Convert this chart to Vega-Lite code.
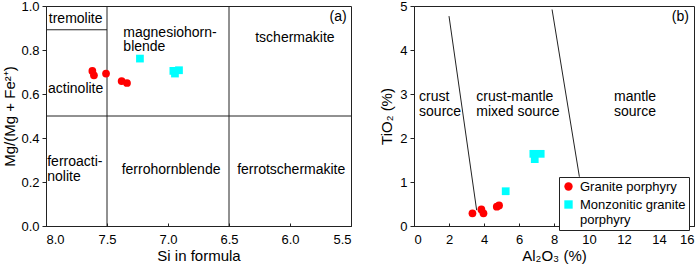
{
  "$schema": "https://vega.github.io/schema/vega-lite/v6.json",
  "padding": {"left": 2, "top": -1, "right": 0, "bottom": 0},
  "spacing": 27,
  "config": {
    "font": "Liberation Sans",
    "view": {"stroke": "#222", "strokeWidth": 1},
    "axis": {
      "grid": false, "domainColor": "#222", "tickColor": "#222",
      "labelColor": "#000", "titleColor": "#000",
      "labelFontSize": 13, "titleFontSize": 15, "titleFontWeight": "normal",
      "labelFont": "Liberation Sans", "titleFont": "Liberation Sans"
    },
    "axisX": {"tickSize": -3, "labelPadding": 10, "titlePadding": 2},
    "axisY": {"tickSize": 4, "labelPadding": 3, "titlePadding": 3},
    "text": {"font": "Liberation Sans", "fontSize": 14, "color": "#000", "lineHeight": 14.5}
  },
  "datasets": {
    "pointsA": [
      {"x": 7.62, "y": 0.705, "group": "Granite porphyry"},
      {"x": 7.607, "y": 0.685, "group": "Granite porphyry"},
      {"x": 7.508, "y": 0.693, "group": "Granite porphyry"},
      {"x": 7.38, "y": 0.659, "group": "Granite porphyry"},
      {"x": 7.336, "y": 0.65, "group": "Granite porphyry"},
      {"x": 7.23, "y": 0.761, "group": "Monzonitic granite porphyry"},
      {"x": 6.956, "y": 0.705, "group": "Monzonitic granite porphyry"},
      {"x": 6.91, "y": 0.708, "group": "Monzonitic granite porphyry"},
      {"x": 6.943, "y": 0.693, "group": "Monzonitic granite porphyry"}
    ],
    "pointsB": [
      {"x": 3.34, "y": 0.287, "group": "Granite porphyry"},
      {"x": 3.85, "y": 0.377, "group": "Granite porphyry"},
      {"x": 3.97, "y": 0.287, "group": "Granite porphyry"},
      {"x": 4.73, "y": 0.438, "group": "Granite porphyry"},
      {"x": 4.86, "y": 0.467, "group": "Granite porphyry"},
      {"x": 5.24, "y": 0.79, "group": "Monzonitic granite porphyry"},
      {"x": 6.82, "y": 1.64, "group": "Monzonitic granite porphyry"},
      {"x": 6.9, "y": 1.52, "group": "Monzonitic granite porphyry"},
      {"x": 7.24, "y": 1.64, "group": "Monzonitic granite porphyry"}
    ],
    "linesA": [
      {"x": 7.5, "y": 0, "xe": 7.5, "ye": 1},
      {"x": 6.5, "y": 0, "xe": 6.5, "ye": 1},
      {"x": 8, "y": 0.5, "xe": 5.5, "ye": 0.5},
      {"x": 8, "y": 0.892, "xe": 7.5, "ye": 0.892}
    ],
    "linesB": [
      {"x": 2.0, "y": 4.77, "xe": 3.58, "ye": 0.36},
      {"x": 7.89, "y": 4.92, "xe": 9.45, "ye": 1.12}
    ],
    "labelsAcenter": [
      {"x": 7.757, "y": 0.941, "label": "tremolite"},
      {"x": 5.96, "y": 0.855, "label": "tschermakite"},
      {"x": 7.757, "y": 0.625, "label": "actinolite"},
      {"x": 6.975, "y": 0.253, "label": "ferrohornblende"},
      {"x": 5.99, "y": 0.253, "label": "ferrotschermakite"}
    ],
    "labelsAleft": [
      {"x": 7.366, "y": 0.878, "label": ["magnesiohorn-", "blende"]},
      {"x": 7.99, "y": 0.289, "label": ["ferroacti-", "nolite"]}
    ],
    "tagA": [{"x": 5.535, "y": 0.952, "label": "(a)"}],
    "labelsBleft": [
      {"x": 0.29, "y": 2.93, "label": ["crust", "source"]},
      {"x": 3.56, "y": 2.93, "label": ["crust-mantle", "mixed source"]},
      {"x": 11.43, "y": 2.93, "label": ["mantle", "source"]}
    ],
    "tagB": [{"x": 15.71, "y": 4.76, "label": "(b)"}]
  },
  "resolve": {
    "scale": {"color": "independent", "shape": "independent"},
    "legend": {"color": "independent", "shape": "independent"}
  },
  "hconcat": [
    {
      "width": 305,
      "height": 220,
      "encoding": {
        "x": {"field": "x", "type": "quantitative",
              "scale": {"domain": [5.5, 8], "reverse": true, "nice": false, "zero": false},
              "axis": {"values": [8, 7.5, 7, 6.5, 6, 5.5], "format": ".1f", "title": "Si in formula"}},
        "y": {"field": "y", "type": "quantitative",
              "scale": {"domain": [0, 1], "nice": false},
              "axis": {"values": [0, 0.2, 0.4, 0.6, 0.8, 1.0], "format": ".1f", "title": "Mg/(Mg + Fe²⁺)"}}
      },
      "layer": [
        {
          "data": {"name": "linesA"},
          "mark": {"type": "rule", "color": "#222", "strokeWidth": 1},
          "encoding": {"x2": {"field": "xe"}, "y2": {"field": "ye"}}
        },
        {
          "data": {"name": "labelsAcenter"},
          "mark": {"type": "text", "align": "center", "baseline": "middle"},
          "encoding": {"text": {"field": "label"}}
        },
        {
          "data": {"name": "labelsAleft"},
          "mark": {"type": "text", "align": "left", "baseline": "middle"},
          "encoding": {"text": {"field": "label"}}
        },
        {
          "data": {"name": "tagA"},
          "mark": {"type": "text", "align": "right", "baseline": "middle"},
          "encoding": {"text": {"field": "label"}}
        },
        {
          "data": {"name": "pointsA"},
          "mark": {"type": "point", "filled": true, "opacity": 1, "size": 60},
          "encoding": {
            "color": {"field": "group", "type": "nominal",
                      "scale": {"domain": ["Granite porphyry", "Monzonitic granite porphyry"], "range": ["#FF0000", "#00FFFF"]},
                      "legend": null},
            "shape": {"field": "group", "type": "nominal",
                      "scale": {"domain": ["Granite porphyry", "Monzonitic granite porphyry"], "range": ["circle", "square"]},
                      "legend": null}
          }
        }
      ]
    },
    {
      "width": 280,
      "height": 220,
      "encoding": {
        "x": {"field": "x", "type": "quantitative",
              "scale": {"domain": [0, 16], "nice": false},
              "axis": {"values": [0, 2, 4, 6, 8, 10, 12, 14, 16], "title": "Al₂O₃ (%)"}},
        "y": {"field": "y", "type": "quantitative",
              "scale": {"domain": [0, 5], "nice": false},
              "axis": {"values": [0, 1, 2, 3, 4, 5], "title": "TiO₂ (%)", "titlePadding": 5}}
      },
      "layer": [
        {
          "data": {"name": "linesB"},
          "mark": {"type": "rule", "color": "#222", "strokeWidth": 1},
          "encoding": {"x2": {"field": "xe"}, "y2": {"field": "ye"}}
        },
        {
          "data": {"name": "labelsBleft"},
          "mark": {"type": "text", "align": "left", "baseline": "middle"},
          "encoding": {"text": {"field": "label"}}
        },
        {
          "data": {"name": "tagB"},
          "mark": {"type": "text", "align": "right", "baseline": "middle"},
          "encoding": {"text": {"field": "label"}}
        },
        {
          "data": {"name": "pointsB"},
          "mark": {"type": "point", "filled": true, "opacity": 1, "size": 60},
          "encoding": {
            "color": {"field": "group", "type": "nominal",
                      "scale": {"domain": ["Granite porphyry", "Monzonitic granite porphyry"], "range": ["#FF0000", "#00FFFF"]},
                      "legend": {"title": null, "orient": "none", "legendX": 145, "legendY": 171,
                                 "strokeColor": "#222", "fillColor": "white", "padding": 3,
                                 "labelFontSize": 13, "labelFont": "Liberation Sans", "labelColor": "#000",
                                 "symbolSize": 70, "symbolStrokeWidth": 0, "labelOffset": 5, "rowPadding": 4,
                                 "labelLimit": 200,
                                 "labelExpr": "datum.label == 'Monzonitic granite porphyry' ? ['Monzonitic granite', 'porphyry'] : datum.label"}},
            "shape": {"field": "group", "type": "nominal",
                      "scale": {"domain": ["Granite porphyry", "Monzonitic granite porphyry"], "range": ["circle", "square"]}}
          }
        }
      ]
    }
  ]
}
